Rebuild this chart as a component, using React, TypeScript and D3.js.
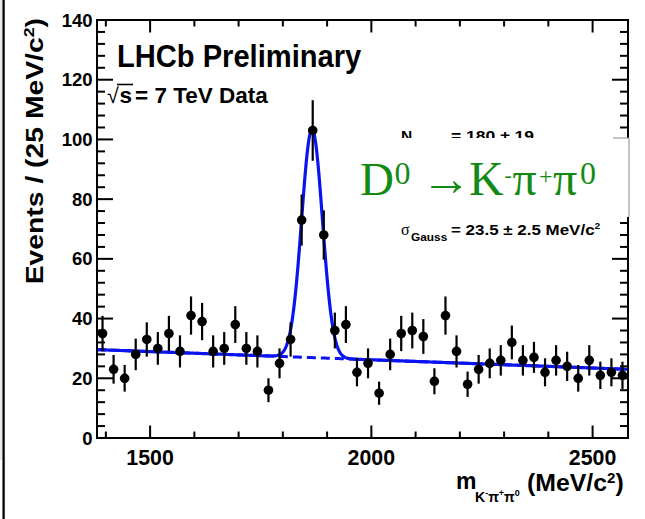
import React from "react";
import * as d3 from "d3";

// Histogram of K- pi+ pi0 invariant mass, 25 MeV/c^2 bins
const massDomain = [1380, 2580];
const binWidth = 25;
const counts = [
  35, 23, 20, 28, 33, 30, 35, 29, 41, 39, 29, 30, 38, 30, 29, 16,
  25, 33, 73, 103, 68, 36, 38, 22, 25, 15, 28, 35, 36, 34, 19, 41,
  29, 18, 23, 25, 26, 32, 26, 27, 22, 26, 24, 20, 26, 21, 22, 21,
];

// Fit result: Gaussian signal on a linear background
const nSignal = 180;
const nSignalErr = 19;
const sigmaGauss = 23.5;
const sigmaGaussErr = 2.5;
const meanMass = 1866;
const bgAtLow = 29.6;
const bgAtHigh = 23.0;

// Axis ticks
const xMajorTicks = [1500, 2000, 2500];
const xMinorTicks = [1400, 1500, 1600, 1700, 1800, 1900, 2000, 2100, 2200, 2300, 2400, 2500];
const yMajorTicks = [0, 20, 40, 60, 80, 100, 120, 140];
const yMinorTicks = d3.range(0, 141, 4);

const W = 645;
const H = 519;
const frame = { left: 97, right: 628, top: 20, bottom: 438 };

const x = d3.scaleLinear().domain(massDomain).range([frame.left, frame.right]);
const y = d3.scaleLinear().domain([0, 140]).range([frame.bottom, frame.top]);

const SANS = "'Liberation Sans', Arial, Helvetica, sans-serif";
const SERIF = "'Liberation Serif', 'Times New Roman', serif";
const BLUE = "#0a14f0";
const GREEN = "#138a13";

const binCenters = counts.map((_, i) => massDomain[0] + binWidth * (i + 0.5));

const background = (m: number) =>
  bgAtLow + ((bgAtHigh - bgAtLow) * (m - massDomain[0])) / (massDomain[1] - massDomain[0]);
const gaussAmp = (nSignal * binWidth) / (Math.sqrt(2 * Math.PI) * sigmaGauss);
const total = (m: number) =>
  background(m) + gaussAmp * Math.exp(-0.5 * ((m - meanMass) / sigmaGauss) ** 2);

const grid = d3.range(massDomain[0], massDomain[1] + 0.01, 1);
const line = d3
  .line<number>()
  .x((m) => x(m))
  .y((m) => y(total(m)));
const bgLine = d3
  .line<number>()
  .x((m) => x(m))
  .y((m) => y(background(m)));

export default function App() {
  const fmt = d3.format("d");
  return (
    <div style={{ position: "fixed", left: 0, top: 0 }}>
      <svg width={W} height={H} style={{ display: "block", background: "#fff" }}>
        {/* page edge */}
        <rect x={0} y={0} width={2.4} height={460} fill="#e6ece6" />
        <line x1={3.6} x2={3.6} y1={0} y2={H} stroke="#000" strokeWidth={2.3} />

        {/* fit curves */}
        <path d={bgLine(grid) ?? ""} fill="none" stroke={BLUE} strokeWidth={3} strokeDasharray="9,5" />
        <path d={line(grid) ?? ""} fill="none" stroke={BLUE} strokeWidth={3.2} strokeLinejoin="round" />

        {/* data points with Poisson errors */}
        {counts.map((c, i) => {
          const cx = x(binCenters[i]);
          const e = Math.sqrt(c);
          return (
            <g key={i}>
              <line x1={cx} x2={cx} y1={y(c - e)} y2={y(c + e)} stroke="#000" strokeWidth={2.2} />
              <circle cx={cx} cy={y(c)} r={4.8} fill="#000" />
            </g>
          );
        })}

        {/* frame and ticks */}
        <rect
          x={frame.left}
          y={frame.top}
          width={frame.right - frame.left}
          height={frame.bottom - frame.top}
          fill="none"
          stroke="#000"
          strokeWidth={2}
        />
        {yMinorTicks.map((v) => {
          const major = yMajorTicks.includes(v);
          const len = major ? 16 : 8;
          return (
            <g key={"y" + v}>
              <line x1={frame.left} x2={frame.left + len} y1={y(v)} y2={y(v)} stroke="#000" strokeWidth={2} />
              <line x1={frame.right} x2={frame.right - len} y1={y(v)} y2={y(v)} stroke="#000" strokeWidth={2} />
            </g>
          );
        })}
        {xMinorTicks.map((v) => {
          const major = xMajorTicks.includes(v);
          const len = major ? 12.5 : 6.5;
          return (
            <g key={"x" + v}>
              <line x1={x(v)} x2={x(v)} y1={frame.bottom} y2={frame.bottom - len} stroke="#000" strokeWidth={2} />
              <line x1={x(v)} x2={x(v)} y1={frame.top} y2={frame.top + len} stroke="#000" strokeWidth={2} />
            </g>
          );
        })}

        {/* tick labels */}
        <g fontFamily={SANS} fontWeight="bold" fill="#000">
          {yMajorTicks.map((v) => (
            <text key={"yl" + v} x={92.5} y={y(v) + 6.6} fontSize={18.5} textAnchor="end">
              {fmt(v)}
            </text>
          ))}
          {xMajorTicks.map((v) => (
            <g key={"xl" + v} transform={`translate(${x(v)},465) scale(0.95,1)`}>
              <text x={0} y={0} fontSize={22.5} textAnchor="middle">
                {fmt(v)}
              </text>
            </g>
          ))}
        </g>

        {/* axis titles */}
        <g fontFamily={SANS} fontWeight="bold" fill="#000">
          <g transform="translate(43.3,18) rotate(-90) scale(1.18,1)">
            <text x={0} y={0} fontSize={24} textAnchor="end">
              Events / (25 MeV/c<tspan dy={-9} fontSize={15}>2</tspan>
              <tspan dy={9}>)</tspan>
            </text>
          </g>
          <text x={456} y={489} fontSize={23}>m</text>
          <text y={502} fontSize={14}>
            <tspan x={475}>K</tspan>
            <tspan dy={-6} fontSize={9}>-</tspan>
            <tspan dy={6}>π</tspan>
            <tspan dy={-6} fontSize={9}>+</tspan>
            <tspan dy={6}>π</tspan>
            <tspan dy={-6} fontSize={9}>0</tspan>
          </text>
          <g transform="translate(527,491) scale(1.08,1)">
            <text x={0} y={0} fontSize={23}>
              (MeV/c<tspan dy={-8} fontSize={14}>2</tspan>
              <tspan dy={8}>)</tspan>
            </text>
          </g>
        </g>

        {/* experiment label */}
        <g fontFamily={SANS} fill="#000">
          <g transform="translate(117,67) scale(0.91,1)">
            <text x={0} y={0} fontSize={32} fontWeight="bold">
              LHCb Preliminary
            </text>
          </g>
          <text x={107} y={103} fontSize={22.5} fontWeight="bold">
            <tspan fontWeight="normal" fontSize={21.5}>√</tspan>
            <tspan x={119.5}>s</tspan>
            <tspan x={135}>= 7 TeV Data</tspan>
          </text>
          <line x1={117} x2={133} y1={84.5} y2={84.5} stroke="#000" strokeWidth={1.6} />
        </g>

        {/* fit results */}
        <g fontFamily={SANS} fill="#000" fontWeight="bold">
          <text x={401} y={141} fontSize={15.5}>N</text>
          <text x={412} y={147} fontSize={10.5}>sig</text>
          <g transform="translate(451,141) scale(1.13,1)">
            <text x={0} y={0} fontSize={15.5}>
              = {nSignal} ± {nSignalErr}
            </text>
          </g>

          <text x={401} y={235} fontSize={16} fontFamily={SERIF} fontWeight="normal">σ</text>
          <g transform="translate(411,241) scale(1.13,1)">
            <text x={0} y={0} fontSize={10.5}>Gauss</text>
          </g>
          <g transform="translate(451,235) scale(1.13,1)">
            <text x={0} y={0} fontSize={15}>
              = {sigmaGauss} ± {sigmaGaussErr} MeV/c<tspan dy={-6} fontSize={9}>2</tspan>
            </text>
          </g>
        </g>

        {/* decay label panel */}
        <rect x={345} y={138} width={284} height={79} fill="#fff" />
        <line x1={629} x2={629} y1={138} y2={217} stroke="#8a8a8a" strokeWidth={1} />
        <line x1={613} x2={629} y1={138} y2={138} stroke="#8a8a8a" strokeWidth={1} />
        <g fontFamily={SERIF} fill={GREEN}>
          <text x={360} y={195} fontSize={47}>D</text>
          <text x={394.5} y={184} fontSize={32}>0</text>
          <g transform="translate(421,195) scale(1.05,1)">
            <text x={0} y={0} fontSize={48}>→</text>
          </g>
          <text x={469} y={195} fontSize={48}>K</text>
          <text x={504.5} y={182} fontSize={22}>-</text>
          <text x={512.5} y={195} fontSize={48}>π</text>
          <text x={539} y={184} fontSize={24}>+</text>
          <text x={553} y={195} fontSize={48}>π</text>
          <text x={580} y={184} fontSize={32}>0</text>
        </g>
      </svg>
    </div>
  );
}
